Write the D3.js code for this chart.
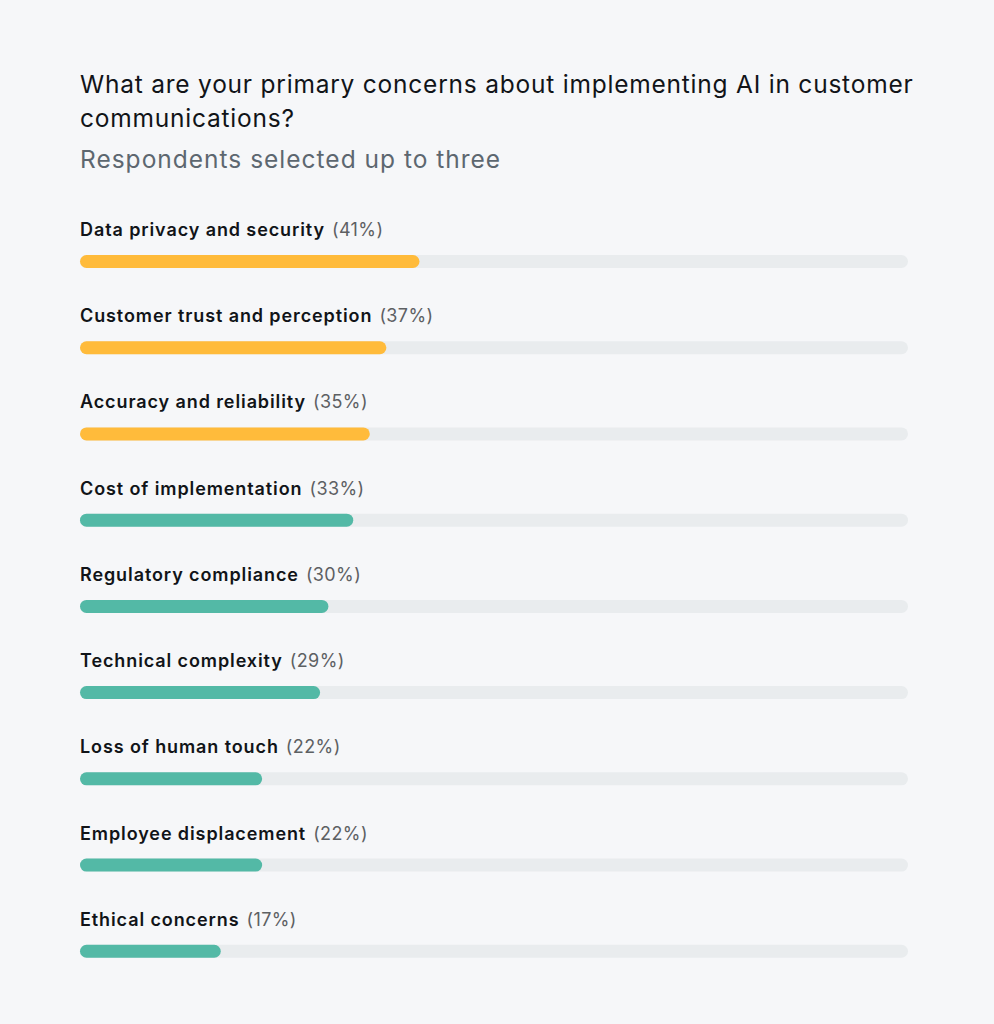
<!DOCTYPE html>
<html>
<head>
<meta charset="utf-8">
<script src="https://cdn.jsdelivr.net/npm/d3@7"></script>
<style>
  html, body { margin: 0; padding: 0; background: #f6f7f9; }
  svg { display: block; font-family: Inter, "Noto Sans", sans-serif; }
</style>
</head>
<body>
<div id="chart"></div>
<script>
// Données
const categories = [
  "Data privacy and security",
  "Customer trust and perception",
  "Accuracy and reliability",
  "Cost of implementation",
  "Regulatory compliance",
  "Technical complexity",
  "Loss of human touch",
  "Employee displacement",
  "Ethical concerns"
];
const values = [41, 37, 35, 33, 30, 29, 22, 22, 17];
const highlighted = [true, true, true, false, false, false, false, false, false];

const titleLines = ["What are your primary concerns about implementing AI in customer", "communications?"];
const subtitle = "Respondents selected up to three";

const width = 994;
const height = 1024;

const svg = d3.select("#chart").append("svg")
    .attr("width", width)
    .attr("height", height);

svg.append("rect")
    .attr("width", width)
    .attr("height", height)
    .attr("fill", "#f6f7f9");

// Titre
svg.append("g").selectAll("text")
    .data(titleLines)
    .enter()
    .append("text")
    .attr("x", 80)
    .attr("y", (d, i) => 93 + i * 34)
    .attr("font-size", 24.5)
    .attr("letter-spacing", 0.78)
    .attr("fill", "#111418")
    .text(d => d);

svg.append("text")
    .attr("x", 80)
    .attr("y", 168)
    .attr("font-size", 24.5)
    .attr("letter-spacing", 1.0)
    .attr("fill", "#5d6770")
    .text(subtitle);

// Échelles
const x = d3.scaleLinear().domain([0, 100]).range([80, 908]);
const y = d3.scaleBand().domain(categories).range([212, 988]).paddingInner(0);

const rows = svg.append("g").selectAll("g")
    .data(categories)
    .enter()
    .append("g")
    .attr("transform", d => `translate(0,${y(d)})`);

const label = rows.append("text")
    .attr("x", 80)
    .attr("y", 24)
    .attr("font-size", 18)
    .attr("fill", "#111418");

label.append("tspan")
    .attr("font-weight", 600)
    .attr("letter-spacing", 0.9)
    .text(d => d);

label.append("tspan")
    .attr("font-weight", 400)
    .attr("fill", "#5d6063")
    .attr("letter-spacing", 0.4)
    .attr("dx", 7)
    .text((d, i) => `(${values[i]}%)`);

// Piste grise
rows.append("rect")
    .attr("x", x(0))
    .attr("y", 43)
    .attr("width", x(100) - x(0))
    .attr("height", 13)
    .attr("rx", 6.5)
    .attr("fill", "#e9ecee");

// Barres
rows.append("rect")
    .attr("x", x(0))
    .attr("y", 43)
    .attr("width", (d, i) => x(values[i]) - x(0))
    .attr("height", 13)
    .attr("rx", 6.5)
    .attr("fill", (d, i) => highlighted[i] ? "#ffbb3b" : "#53b9a6");
</script>
</body>
</html>
